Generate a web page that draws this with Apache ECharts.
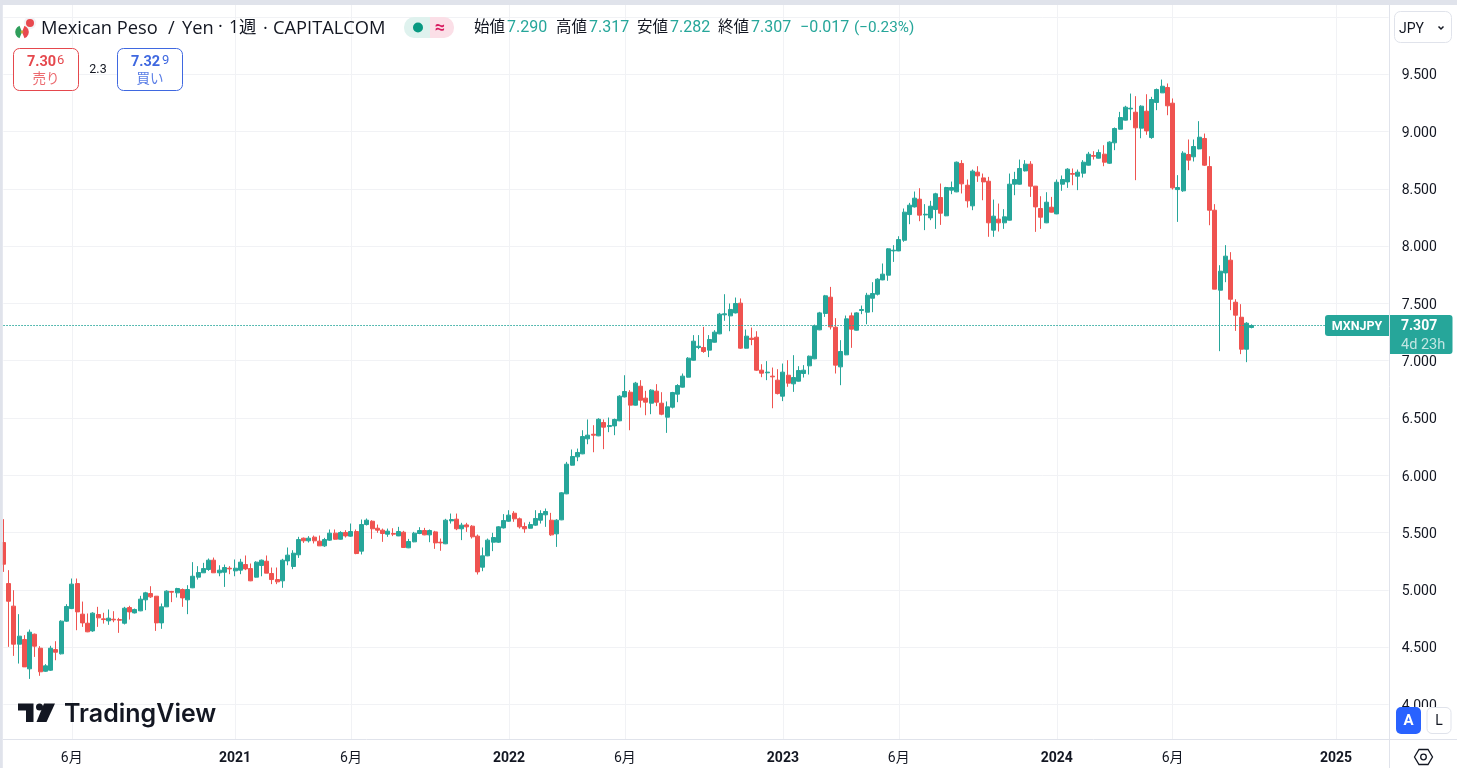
<!DOCTYPE html>
<html><head><meta charset="utf-8">
<style>html,body{margin:0;padding:0;background:#fff;overflow:hidden}#c{width:1457px;height:768px}</style>
<script src="https://cdn.jsdelivr.net/npm/echarts@6/dist/echarts.min.js"></script>
</head><body><div id="c"></div>
<script>
const opens=[5.413,5.055,4.858,4.526,4.567,4.311,4.613,4.491,4.290,4.299,
4.479,4.442,4.727,4.837,5.055,4.788,4.709,4.642,4.785,4.747,
4.730,4.744,4.741,4.709,4.846,4.799,4.817,4.913,4.968,4.945,
4.712,4.852,4.986,4.974,5.003,4.913,5.018,5.111,5.149,5.178,
5.259,5.149,5.154,5.189,5.166,5.172,5.221,5.186,5.111,5.213,
5.250,5.143,5.090,5.079,5.253,5.204,5.306,5.451,5.428,5.460,
5.425,5.384,5.434,5.495,5.442,5.501,5.469,5.509,5.338,5.570,
5.599,5.538,5.521,5.486,5.492,5.471,5.503,5.367,5.419,5.492,
5.518,5.480,5.506,5.416,5.402,5.602,5.617,5.533,5.567,5.556,
5.469,5.198,5.297,5.416,5.416,5.541,5.599,5.669,5.620,5.553,
5.538,5.565,5.608,5.655,5.608,5.489,5.611,5.838,6.088,6.161,
6.187,6.318,6.358,6.344,6.460,6.425,6.431,6.475,6.684,6.725,
6.612,6.777,6.673,6.629,6.734,6.629,6.507,6.594,6.708,6.769,
6.856,7.004,7.115,7.115,7.092,7.161,7.234,7.400,7.391,7.417,
7.502,7.109,7.196,7.205,6.917,6.894,6.865,6.830,6.690,6.873,
6.798,6.821,6.888,6.955,7.016,7.269,7.412,7.554,7.292,6.946,
7.051,7.391,7.266,7.438,7.423,7.545,7.580,7.705,7.746,7.958,
7.958,8.051,8.275,8.342,8.409,8.272,8.246,8.319,8.424,8.264,
8.488,8.473,8.721,8.531,8.351,8.645,8.595,8.566,8.139,8.235,
8.203,8.226,8.540,8.540,8.656,8.715,8.523,8.328,8.203,8.339,
8.281,8.540,8.560,8.633,8.610,8.636,8.706,8.790,8.767,8.802,
8.723,8.901,9.020,9.099,9.197,9.168,9.029,9.177,8.947,9.253,
9.337,9.384,9.247,8.493,8.482,8.799,8.779,8.848,8.939,8.694,
8.313,7.615,7.766,7.877,7.510,7.379,7.100,7.290];
const closes=[5.224,4.901,4.526,4.596,4.328,4.631,4.509,4.285,4.337,4.491,
4.456,4.727,4.855,5.050,4.808,4.712,4.634,4.797,4.756,4.741,
4.753,4.738,4.735,4.840,4.808,4.829,4.919,4.974,4.939,4.712,
4.852,4.989,4.980,5.012,4.930,5.003,5.119,5.151,5.186,5.259,
5.149,5.172,5.195,5.183,5.189,5.242,5.183,5.079,5.242,5.259,
5.146,5.090,5.070,5.259,5.303,5.320,5.439,5.428,5.451,5.428,
5.384,5.439,5.495,5.442,5.501,5.471,5.509,5.317,5.570,5.608,
5.533,5.521,5.492,5.512,5.486,5.509,5.370,5.422,5.495,5.518,
5.480,5.518,5.410,5.410,5.608,5.614,5.533,5.565,5.550,5.463,
5.157,5.297,5.434,5.457,5.550,5.605,5.652,5.620,5.550,5.533,
5.570,5.623,5.666,5.684,5.480,5.608,5.847,6.097,6.164,6.199,
6.338,6.350,6.350,6.489,6.420,6.434,6.487,6.690,6.731,6.612,
6.804,6.655,6.638,6.743,6.638,6.533,6.597,6.722,6.783,6.865,
7.022,7.170,7.126,7.080,7.185,7.249,7.406,7.409,7.447,7.499,
7.109,7.214,7.185,6.917,6.891,6.900,6.859,6.713,6.900,6.804,
6.853,6.914,6.917,7.039,7.304,7.417,7.566,7.295,6.961,7.080,
7.365,7.275,7.417,7.446,7.571,7.586,7.711,7.755,7.976,7.964,
8.057,8.296,8.357,8.418,8.270,8.278,8.348,8.456,8.287,8.511,
8.511,8.732,8.543,8.395,8.654,8.613,8.560,8.203,8.261,8.203,
8.255,8.540,8.581,8.677,8.715,8.523,8.342,8.252,8.383,8.296,
8.557,8.581,8.671,8.627,8.645,8.732,8.802,8.784,8.816,8.732,
8.907,9.026,9.122,9.212,9.203,9.032,9.221,9.005,9.279,9.366,
9.395,9.224,8.508,8.511,8.811,8.750,8.869,8.950,8.706,8.313,
7.624,7.781,7.912,7.536,7.397,7.100,7.327,7.307];
const highs=[5.617,5.172,4.997,4.788,4.605,4.654,4.619,4.509,4.352,4.512,
4.552,4.735,4.875,5.099,5.099,4.898,4.794,4.805,4.852,4.800,
4.829,4.814,4.756,4.852,4.861,4.837,4.948,4.983,5.032,4.945,
4.881,4.997,4.991,5.018,5.012,5.041,5.242,5.207,5.236,5.274,
5.282,5.215,5.221,5.207,5.265,5.271,5.300,5.230,5.250,5.265,
5.300,5.195,5.195,5.271,5.370,5.346,5.463,5.457,5.469,5.474,
5.474,5.454,5.527,5.527,5.512,5.521,5.579,5.527,5.614,5.623,
5.608,5.570,5.535,5.535,5.538,5.550,5.515,5.445,5.506,5.547,
5.541,5.527,5.515,5.448,5.620,5.666,5.666,5.585,5.585,5.565,
5.483,5.370,5.448,5.498,5.556,5.661,5.695,5.687,5.631,5.588,
5.594,5.695,5.695,5.710,5.672,5.617,5.853,6.117,6.225,6.233,
6.393,6.487,6.437,6.498,6.487,6.504,6.495,6.699,6.873,6.743,
6.815,6.830,6.737,6.751,6.795,6.725,6.644,6.728,6.795,6.888,
7.031,7.223,7.223,7.295,7.223,7.266,7.417,7.580,7.499,7.551,
7.543,7.272,7.289,7.257,6.969,6.996,6.940,6.926,6.975,7.004,
7.048,6.952,6.961,7.045,7.315,7.426,7.574,7.644,7.371,7.179,
7.394,7.420,7.423,7.481,7.592,7.685,7.720,7.848,7.982,8.008,
8.086,8.328,8.377,8.476,8.505,8.366,8.395,8.465,8.546,8.517,
8.563,8.738,8.750,8.581,8.668,8.697,8.633,8.604,8.406,8.371,
8.322,8.633,8.648,8.755,8.750,8.741,8.523,8.435,8.470,8.429,
8.581,8.616,8.680,8.677,8.668,8.750,8.822,8.828,8.843,8.880,
8.915,9.035,9.171,9.224,9.331,9.308,9.229,9.325,9.302,9.375,
9.453,9.419,9.288,8.619,8.828,8.930,8.930,9.090,8.982,8.784,
8.366,7.833,8.008,7.947,7.536,7.493,7.336,7.317];
const lows=[5.157,4.503,4.424,4.357,4.328,4.223,4.415,4.250,4.285,4.293,
4.386,4.436,4.721,4.832,4.648,4.677,4.631,4.634,4.677,4.706,
4.695,4.718,4.625,4.698,4.741,4.794,4.814,4.823,4.930,4.642,
4.660,4.852,4.893,4.933,4.852,4.788,5.015,5.090,5.149,5.166,
5.149,5.119,5.026,5.137,5.119,5.137,5.172,5.076,5.108,5.119,
5.146,5.050,5.050,5.018,5.215,5.181,5.279,5.410,5.413,5.405,
5.384,5.375,5.428,5.439,5.439,5.457,5.463,5.311,5.309,5.562,
5.445,5.498,5.419,5.463,5.469,5.469,5.370,5.364,5.416,5.486,
5.477,5.416,5.358,5.341,5.399,5.579,5.521,5.434,5.506,5.448,
5.134,5.163,5.294,5.338,5.410,5.535,5.594,5.594,5.535,5.498,
5.535,5.559,5.579,5.550,5.471,5.375,5.608,5.835,6.085,6.123,
6.184,6.271,6.201,6.341,6.228,6.376,6.350,6.472,6.679,6.393,
6.609,6.591,6.524,6.533,6.603,6.524,6.370,6.583,6.638,6.766,
6.853,7.001,7.100,7.068,7.031,7.159,7.231,7.348,7.257,7.412,
7.103,7.106,7.135,6.911,6.856,6.830,6.585,6.705,6.647,6.772,
6.728,6.818,6.853,6.879,7.013,7.266,7.382,7.272,6.888,6.786,
7.048,7.112,7.263,7.406,7.318,7.423,7.569,7.702,7.697,7.862,
7.955,8.037,8.191,8.336,8.217,8.139,8.226,8.150,8.185,8.261,
8.453,8.470,8.459,8.336,8.313,8.560,8.400,8.081,8.081,8.127,
8.150,8.223,8.444,8.537,8.651,8.429,8.124,8.150,8.200,8.293,
8.278,8.482,8.508,8.531,8.488,8.598,8.703,8.755,8.764,8.697,
8.717,8.837,9.017,9.096,9.099,8.575,8.941,8.971,8.936,9.186,
9.337,9.142,8.493,8.211,8.473,8.662,8.738,8.845,8.700,8.182,
7.624,7.083,7.685,7.441,7.260,7.057,6.987,7.282];
const yGridTicks=[4,4.5,5,5.5,6,6.5,7,7.5,8,8.5,9,9.5,10];
const yLabelTicks=[4,4.5,5,5.5,6,6.5,7,7.5,8,8.5,9,9.5];
const xTickWeeks=[13,44,66,96,118,148,170,200,222,253];
const xTickLabels=['6月','2021','6月','2022','6月','2023','6月','2024','6月','2025'];
const lastPrice=7.307;
const weekCount=264;

const UP='#26a69a',DOWN='#ef5350',INK='#131722',LINE='#e0e3eb',GRID='#f1f2f5';
const FF='Roboto,"Noto Sans CJK JP",sans-serif';
const TF='"Open Sans","Noto Sans CJK JP",sans-serif';
const categories=Array.from({length:weekCount},(_,i)=>String(i));
const showTick=i=>xTickWeeks.indexOf(i)>=0;
const candles=opens.map((o,i)=>[o,closes[i],lows[i],highs[i]]);

function T(x,y,text,font,fill,align,fam){return {type:'text',z:120,silent:true,style:{x,y,text,font:font+' '+(fam||FF),fill:fill||INK,textAlign:align||'left',textVerticalAlign:'middle'}};}
function R(x,y,w,h,fill,stroke,r,z){return {type:'rect',z:z||110,silent:true,shape:{x,y,width:w,height:h,r:r||0},style:{fill:fill||'none',stroke:stroke||'none',lineWidth:1}};}
function L(x1,y1,x2,y2,c){return {type:'line',z:112,silent:true,shape:{x1,y1,x2,y2},style:{stroke:c||LINE,lineWidth:1}};}
function P(points,fill,stroke){return {type:'polygon',z:121,silent:true,shape:{points},style:{fill:fill||'none',stroke:stroke||'none',lineWidth:1.3}};}
function C(cx,cy,r,fill,stroke,z){return {type:'circle',z:z||121,silent:true,shape:{cx,cy,r},style:{fill:fill||'none',stroke:stroke||'none',lineWidth:1.3}};}

const elements=[
 R(0,0,1457,5,LINE,null,0,105),R(0,0,2.8,768,LINE,null,0,105),
 R(1390,707,67,32,'#fff',null,0,106),
 L(3,739.5,1457,739.5),L(1389.5,5,1389.5,768),
 // price tags
 R(1325,315,64,21,UP,null,[3,0,0,3]),
 R(1390,315,62.5,39,UP,null,[0,3,3,0]),
 T(1357,326.5,'MXNJPY','bold 12.5px','#fff','center'),
 T(1401,326.5,'7.307','bold 14px','#fff'),
 T(1401,345,'4d 23h','14.5px','rgba(255,255,255,.72)'),
 // currency button
 R(1394.5,11.5,57,31,'#fff',LINE,6),
 T(1399,29,'JPY','14px'),
 {type:'polyline',z:121,silent:true,shape:{points:[[1438.5,26.5],[1441,29],[1443.5,26.5]]},style:{stroke:INK,lineWidth:1.5,fill:'none'}},
 // title icon
 C(30,23,6.2,'#f3f3f6'),C(30,23,4,'#e8494f'),
 C(22,32,7,'#fff'),
 {type:'sector',z:121,silent:true,shape:{cx:22,cy:32,r:6.8,r0:0,startAngle:Math.PI*0.62,endAngle:Math.PI*1.38},style:{fill:'#2f9e5b'}},
 {type:'sector',z:121,silent:true,shape:{cx:22,cy:32,r:6.8,r0:0,startAngle:-Math.PI*0.38,endAngle:Math.PI*0.38},style:{fill:'#e8494f'}},
 C(22,32,1.4,'#c9a13b'),
 // title
 T(41,29,'Mexican Peso','18.3px',INK,'left',TF),T(168,29,'/','18.3px',INK,'left',TF),T(182,29,'Yen','18.3px',INK,'left',TF),T(218,27,'·','18.3px',INK,'left',TF),
 T(229,28,'1週','17.5px',INK,'left',TF),T(263,29,'·','18.3px',INK,'left',TF),T(273,29,'CAPITALCOM','18.3px',INK,'left',TF),
 // status pill
 {type:'rect',z:110,silent:true,shape:{x:404,y:17,width:26,height:21,r:[10,0,0,10]},style:{fill:'#dff2ee'}},
 {type:'rect',z:110,silent:true,shape:{x:430,y:17,width:24,height:21,r:[0,10,10,0]},style:{fill:'#fbdfe7'}},
 C(418,27.5,5,'#089981'),
 T(440,28,'≈','bold 18px','#d81b60','center'),
 // OHLC
 T(474,28,'始値','15.5px'),T(507,28,'7.290','16px',UP),
 T(556,28,'高値','15.5px'),T(589,28,'7.317','16px',UP),
 T(637,28,'安値','15.5px'),T(670,28,'7.282','16px',UP),
 T(718,28,'終値','15.5px'),T(751,28,'7.307','16px',UP),
 T(800,28,'−0.017','16px',UP),T(854,28,'(−0.23%)','15.3px',UP),
 // sell / buy
 R(13.5,48.5,65,42,'#fff','#e5484d',6),
 T(27,62,'7.30','bold 14.5px','#e5484d'),T(57,61,'6','13px','#e5484d'),
 T(46,80,'売り','13.5px','#ec6a6f','center'),
 T(98,70,'2.3','12.5px',INK,'center'),
 R(117.5,48.5,65,42,'#fff','#3f68e0',6),
 T(131,62,'7.32','bold 14.5px','#3f68e0'),T(162,61,'9','13px','#3f68e0'),
 T(150,80,'買い','13.5px','#5a7ee6','center'),
 // scale buttons
 R(1396,707,25,27,'#2962ff',null,5),
 T(1408.5,721.5,'A','bold 15px','#fff','center'),
 R(1427,707.5,24,26,'#fff',LINE,5),
 T(1439,721.5,'L','14px',INK,'center'),
 // settings
 P([[1414.5,757],[1419,749.5],[1428,749.5],[1432.5,757],[1428,764.5],[1419,764.5]],null,INK),
 C(1423.5,757,2.8,null,INK),
 // logo
 P([[18,703.5],[33.5,703.5],[33.5,722],[26,722],[26,710.5],[18,710.5]],INK),
 C(39.5,707,3.5,INK),
 P([[44,703.5],[55,703.5],[46.5,722],[36.5,722]],INK),
 T(64,714,'TradingView','600 25px',INK,'left','Inter,sans-serif')
];

const chart=echarts.init(document.getElementById('c'),null,{renderer:'canvas',width:1457,height:768});
chart.setOption({
 animation:false,backgroundColor:'#fff',
 grid:{left:3.3,top:5,right:68.35,bottom:29,containLabel:false},
 xAxis:{type:'category',data:categories,boundaryGap:false,
  axisLine:{show:false},axisTick:{show:false},
  axisLabel:{interval:(i)=>showTick(i),margin:12,
   formatter:(v)=>{const k=xTickWeeks.indexOf(+v);if(k<0)return '';const s=xTickLabels[k];return /^\d+$/.test(s)?'{y|'+s+'}':'{m|'+s+'}';},
   rich:{y:{fontWeight:'bold',fontSize:14,fontFamily:'Roboto',color:INK},m:{fontSize:14,fontFamily:'Roboto,"Noto Sans CJK JP"',color:INK}}},
  splitLine:{show:true,interval:(i)=>showTick(i),lineStyle:{color:GRID,width:1}}},
 yAxis:{type:'value',position:'right',scale:true,min:3.6987,max:10.1037,
  axisLine:{show:false},axisTick:{show:false,customValues:yGridTicks},
  axisLabel:{customValues:yLabelTicks,margin:13,formatter:v=>'{v|'+v.toFixed(3)+'}',
   rich:{v:{color:INK,fontSize:14,fontFamily:'Roboto',padding:[3.5,0,0,0]}}},
  splitLine:{show:true,lineStyle:{color:GRID,width:1}}},
 series:[{type:'candlestick',data:candles,barWidth:4.5,clip:false,
  itemStyle:{color:UP,color0:DOWN,borderColor:UP,borderColor0:DOWN,borderWidth:1},
  markLine:{silent:true,symbol:'none',label:{show:false},animation:false,
   lineStyle:{color:UP,type:[1.5,1.5],width:1},data:[{yAxis:lastPrice}]}}],
 graphic:{elements}
});
</script></body></html>
